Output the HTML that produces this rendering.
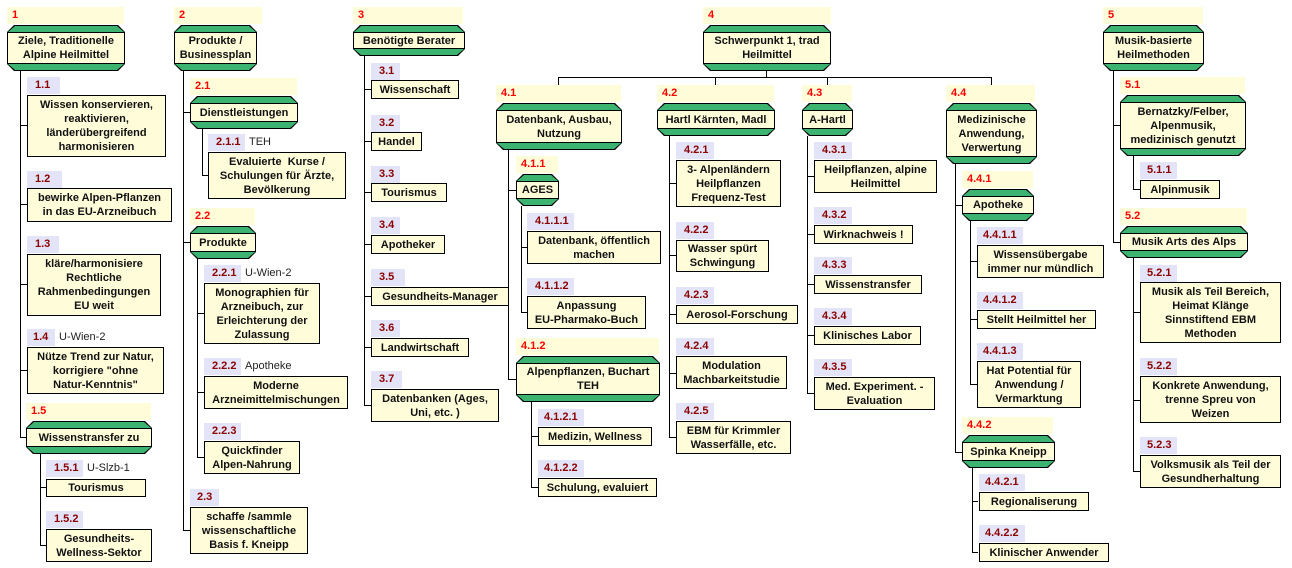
<!DOCTYPE html>
<html><head><meta charset="utf-8">
<style>
*{margin:0;padding:0;box-sizing:border-box}
body{width:1292px;height:568px;background:#fff;position:relative;overflow:hidden;font-family:"Liberation Sans",Arial,sans-serif;font-size:11px;font-weight:bold;color:#111}
div{position:absolute}
.s{background:#fffcd9;height:17px;color:#f00;padding:2px 0 0 5px;font-size:11px}
.t{background:#e4e4f8;height:17px;color:#8b0000;padding:2px 0 0 8px;width:36px}
.n{font-weight:normal;color:#222;padding-left:4px;position:absolute;left:100%;top:2px;white-space:nowrap}
.b{background:#fffcd9;border:1px solid #000;display:flex;align-items:center;justify-content:center;text-align:center;line-height:14px;padding:0 3px}
.g{display:flex;flex-direction:column}
.g>.bt,.g>.bb{position:relative;height:7px;background:#000}
.g>.bt{clip-path:polygon(7px 0,calc(100% - 7px) 0,100% 100%,0 100%)}
.g>.bb{clip-path:polygon(0 0,100% 0,calc(100% - 7px) 100%,7px 100%)}
.g>.bt::after,.g>.bb::after{content:"";position:absolute;left:1px;right:1px;background:#3cb371}
.g>.bt::after{top:1px;bottom:0;clip-path:polygon(7px 0,calc(100% - 7px) 0,100% 100%,0 100%)}
.g>.bb::after{top:0;bottom:1px;clip-path:polygon(0 0,100% 0,calc(100% - 7px) 100%,7px 100%)}
.g>.m{position:relative;flex:1;background:#fffcd9;border:1px solid #000;display:flex;align-items:center;justify-content:center;text-align:center;line-height:14px;padding:0 3px}
.v{width:1px;background:#000}
.h{height:1px;background:#000}
</style></head><body>

<!-- lines -->
<div class="v" style="left:20px;top:70px;height:367px"></div>
<div class="h" style="left:20px;top:125px;width:7px"></div>
<div class="h" style="left:20px;top:204px;width:7px"></div>
<div class="h" style="left:20px;top:284px;width:7px"></div>
<div class="h" style="left:20px;top:370px;width:7px"></div>
<div class="h" style="left:20px;top:437px;width:7px"></div>
<div class="v" style="left:40px;top:453px;height:92px"></div>
<div class="h" style="left:40px;top:487px;width:6px"></div>
<div class="h" style="left:40px;top:545px;width:6px"></div>

<div class="v" style="left:183px;top:70px;height:460px"></div>
<div class="h" style="left:183px;top:112px;width:7px"></div>
<div class="h" style="left:183px;top:242px;width:7px"></div>
<div class="h" style="left:183px;top:530px;width:7px"></div>
<div class="v" style="left:202px;top:128px;height:47px"></div>
<div class="h" style="left:202px;top:175px;width:6px"></div>
<div class="v" style="left:197px;top:258px;height:199px"></div>
<div class="h" style="left:197px;top:313px;width:7px"></div>
<div class="h" style="left:197px;top:392px;width:7px"></div>
<div class="h" style="left:197px;top:457px;width:7px"></div>

<div class="v" style="left:364px;top:56px;height:349px"></div>
<div class="h" style="left:364px;top:89px;width:7px"></div>
<div class="h" style="left:364px;top:141px;width:7px"></div>
<div class="h" style="left:364px;top:192px;width:7px"></div>
<div class="h" style="left:364px;top:244px;width:7px"></div>
<div class="h" style="left:364px;top:296px;width:7px"></div>
<div class="h" style="left:364px;top:347px;width:7px"></div>
<div class="h" style="left:364px;top:405px;width:7px"></div>

<div class="v" style="left:766px;top:70px;height:7px"></div>
<div class="h" style="left:558px;top:77px;width:434px"></div>
<div class="v" style="left:558px;top:77px;height:8px"></div>
<div class="v" style="left:715px;top:77px;height:8px"></div>
<div class="v" style="left:827px;top:77px;height:8px"></div>
<div class="v" style="left:991px;top:77px;height:8px"></div>

<div class="v" style="left:508px;top:150px;height:230px"></div>
<div class="h" style="left:508px;top:190px;width:8px"></div>
<div class="h" style="left:508px;top:379px;width:8px"></div>
<div class="v" style="left:521px;top:206px;height:107px"></div>
<div class="h" style="left:521px;top:247px;width:6px"></div>
<div class="h" style="left:521px;top:312px;width:6px"></div>
<div class="v" style="left:531px;top:402px;height:85px"></div>
<div class="h" style="left:531px;top:436px;width:7px"></div>
<div class="h" style="left:531px;top:487px;width:7px"></div>

<div class="v" style="left:669px;top:136px;height:302px"></div>
<div class="h" style="left:669px;top:183px;width:7px"></div>
<div class="h" style="left:669px;top:255px;width:7px"></div>
<div class="h" style="left:669px;top:314px;width:7px"></div>
<div class="h" style="left:669px;top:373px;width:7px"></div>
<div class="h" style="left:669px;top:437px;width:7px"></div>

<div class="v" style="left:807px;top:136px;height:257px"></div>
<div class="h" style="left:807px;top:176px;width:7px"></div>
<div class="h" style="left:807px;top:234px;width:7px"></div>
<div class="h" style="left:807px;top:284px;width:7px"></div>
<div class="h" style="left:807px;top:335px;width:7px"></div>
<div class="h" style="left:807px;top:393px;width:7px"></div>

<div class="v" style="left:955px;top:164px;height:288px"></div>
<div class="h" style="left:955px;top:205px;width:9px"></div>
<div class="h" style="left:955px;top:452px;width:9px"></div>
<div class="v" style="left:970px;top:221px;height:164px"></div>
<div class="h" style="left:970px;top:261px;width:8px"></div>
<div class="h" style="left:970px;top:319px;width:8px"></div>
<div class="h" style="left:970px;top:384px;width:8px"></div>
<div class="v" style="left:972px;top:468px;height:84px"></div>
<div class="h" style="left:972px;top:501px;width:6px"></div>
<div class="h" style="left:972px;top:552px;width:6px"></div>

<div class="v" style="left:1113px;top:70px;height:172px"></div>
<div class="h" style="left:1113px;top:125px;width:9px"></div>
<div class="h" style="left:1113px;top:242px;width:9px"></div>
<div class="v" style="left:1133px;top:156px;height:33px"></div>
<div class="h" style="left:1133px;top:189px;width:7px"></div>
<div class="v" style="left:1133px;top:258px;height:213px"></div>
<div class="h" style="left:1133px;top:312px;width:7px"></div>
<div class="h" style="left:1133px;top:400px;width:7px"></div>
<div class="h" style="left:1133px;top:471px;width:7px"></div>

<!-- Column 1 -->
<div class="s" style="left:7px;top:7px;width:117px">1</div>
<div class="g" style="left:7px;top:25px;width:118px;height:46px"><div class="bt"></div><div class="m">Ziele, Traditionelle<br>Alpine Heilmittel</div><div class="bb"></div></div>
<div class="t" style="left:27px;top:77px;width:33px">1.1</div>
<div class="b" style="left:27px;top:95px;width:139px;height:62px">Wissen konservieren,<br>reaktivieren,<br>länderübergreifend<br>harmonisieren</div>
<div class="t" style="left:27px;top:171px;width:35px">1.2</div>
<div class="b" style="left:27px;top:188px;width:145px;height:34px">bewirke Alpen-Pflanzen<br>in das EU-Arzneibuch</div>
<div class="t" style="left:27px;top:236px;width:32px">1.3</div>
<div class="b" style="left:27px;top:254px;width:134px;height:62px">kläre/harmonisiere<br>Rechtliche<br>Rahmenbedingungen<br>EU weit</div>
<div class="t" style="left:27px;top:329px;width:28px;padding-left:6px">1.4<span class="n">U-Wien-2</span></div>
<div class="b" style="left:27px;top:347px;width:137px;height:47px">Nütze Trend zur Natur,<br>korrigiere "ohne<br>Natur-Kenntnis"</div>
<div class="s" style="left:26px;top:403px;width:125px">1.5</div>
<div class="g" style="left:26px;top:421px;width:126px;height:33px"><div class="bt"></div><div class="m">Wissenstransfer zu</div><div class="bb"></div></div>
<div class="t" style="left:46px;top:460px;width:37px">1.5.1<span class="n">U-Slzb-1</span></div>
<div class="b" style="left:46px;top:479px;width:100px;height:18px">Tourismus</div>
<div class="t" style="left:46px;top:511px;width:37px">1.5.2</div>
<div class="b" style="left:46px;top:529px;width:106px;height:33px">Gesundheits-<br>Wellness-Sektor</div>

<!-- Column 2 -->
<div class="s" style="left:174px;top:7px;width:88px">2</div>
<div class="g" style="left:174px;top:25px;width:83px;height:46px"><div class="bt"></div><div class="m">Produkte /<br>Businessplan</div><div class="bb"></div></div>
<div class="s" style="left:190px;top:78px;width:107px">2.1</div>
<div class="g" style="left:190px;top:96px;width:108px;height:33px"><div class="bt"></div><div class="m">Dienstleistungen</div><div class="bb"></div></div>
<div class="t" style="left:208px;top:134px;width:37px">2.1.1<span class="n">TEH</span></div>
<div class="b" style="left:208px;top:152px;width:138px;height:47px">Evaluierte&nbsp; Kurse /<br>Schulungen für Ärzte,<br>Bevölkerung</div>
<div class="s" style="left:190px;top:208px;width:65px">2.2</div>
<div class="g" style="left:190px;top:226px;width:66px;height:33px"><div class="bt"></div><div class="m">Produkte</div><div class="bb"></div></div>
<div class="t" style="left:204px;top:265px;width:37px">2.2.1<span class="n">U-Wien-2</span></div>
<div class="b" style="left:204px;top:283px;width:116px;height:61px">Monographien für<br>Arzneibuch, zur<br>Erleichterung der<br>Zulassung</div>
<div class="t" style="left:204px;top:358px;width:37px">2.2.2<span class="n">Apotheke</span></div>
<div class="b" style="left:204px;top:376px;width:144px;height:33px">Moderne<br>Arzneimittelmischungen</div>
<div class="t" style="left:204px;top:423px;width:37px">2.2.3</div>
<div class="b" style="left:204px;top:441px;width:96px;height:33px">Quickfinder<br>Alpen-Nahrung</div>
<div class="t" style="left:190px;top:489px;width:29px;padding-left:7px">2.3</div>
<div class="b" style="left:190px;top:507px;width:118px;height:47px">schaffe /sammle<br>wissenschaftliche<br>Basis f. Kneipp</div>

<!-- Column 3 -->
<div class="s" style="left:353px;top:7px;width:110px">3</div>
<div class="g" style="left:353px;top:25px;width:112px;height:31px"><div class="bt"></div><div class="m">Benötigte Berater</div><div class="bb"></div></div>
<div class="t" style="left:371px;top:63px;width:29px">3.1</div>
<div class="b" style="left:371px;top:80px;width:88px;height:19px">Wissenschaft</div>
<div class="t" style="left:371px;top:115px;width:29px">3.2</div>
<div class="b" style="left:371px;top:132px;width:51px;height:19px">Handel</div>
<div class="t" style="left:371px;top:166px;width:29px">3.3</div>
<div class="b" style="left:371px;top:183px;width:76px;height:19px">Tourismus</div>
<div class="t" style="left:371px;top:217px;width:29px">3.4</div>
<div class="b" style="left:371px;top:235px;width:74px;height:19px">Apotheker</div>
<div class="t" style="left:371px;top:269px;width:34px">3.5</div>
<div class="b" style="left:371px;top:287px;width:138px;height:19px">Gesundheits-Manager</div>
<div class="t" style="left:371px;top:320px;width:29px">3.6</div>
<div class="b" style="left:371px;top:338px;width:98px;height:19px">Landwirtschaft</div>
<div class="t" style="left:371px;top:371px;width:31px">3.7</div>
<div class="b" style="left:371px;top:389px;width:128px;height:33px">Datenbanken (Ages,<br>Uni, etc. )</div>

<!-- Node 4 -->
<div class="s" style="left:703px;top:7px;width:128px">4</div>
<div class="g" style="left:703px;top:25px;width:128px;height:46px"><div class="bt"></div><div class="m">Schwerpunkt 1, trad<br>Heilmittel</div><div class="bb"></div></div>

<div class="s" style="left:496px;top:85px;width:125px">4.1</div>
<div class="g" style="left:496px;top:103px;width:126px;height:47px"><div class="bt"></div><div class="m">Datenbank, Ausbau,<br>Nutzung</div><div class="bb"></div></div>
<div class="s" style="left:516px;top:156px;width:42px">4.1.1</div>
<div class="g" style="left:516px;top:174px;width:43px;height:32px"><div class="bt"></div><div class="m">AGES</div><div class="bb"></div></div>
<div class="t" style="left:527px;top:213px;width:47px">4.1.1.1</div>
<div class="b" style="left:527px;top:231px;width:134px;height:33px">Datenbank, öffentlich<br>machen</div>
<div class="t" style="left:527px;top:278px;width:47px">4.1.1.2</div>
<div class="b" style="left:527px;top:296px;width:119px;height:33px">Anpassung<br>EU-Pharmako-Buch</div>
<div class="s" style="left:516px;top:338px;width:143px">4.1.2</div>
<div class="g" style="left:516px;top:356px;width:144px;height:46px"><div class="bt"></div><div class="m">Alpenpflanzen, Buchart<br>TEH</div><div class="bb"></div></div>
<div class="t" style="left:538px;top:409px;width:46px;padding-left:6px">4.1.2.1</div>
<div class="b" style="left:538px;top:427px;width:114px;height:19px">Medizin, Wellness</div>
<div class="t" style="left:538px;top:460px;width:46px;padding-left:6px">4.1.2.2</div>
<div class="b" style="left:538px;top:478px;width:119px;height:19px">Schulung, evaluiert</div>

<div class="s" style="left:657px;top:85px;width:117px">4.2</div>
<div class="g" style="left:657px;top:103px;width:118px;height:33px"><div class="bt"></div><div class="m">Hartl Kärnten, Madl</div><div class="bb"></div></div>
<div class="t" style="left:676px;top:142px;width:38px">4.2.1</div>
<div class="b" style="left:676px;top:160px;width:105px;height:47px">3- Alpenländern<br>Heilpflanzen<br>Frequenz-Test</div>
<div class="t" style="left:676px;top:222px;width:38px">4.2.2</div>
<div class="b" style="left:676px;top:240px;width:93px;height:32px">Wasser spürt<br>Schwingung</div>
<div class="t" style="left:676px;top:287px;width:38px">4.2.3</div>
<div class="b" style="left:676px;top:305px;width:122px;height:19px">Aerosol-Forschung</div>
<div class="t" style="left:676px;top:338px;width:38px">4.2.4</div>
<div class="b" style="left:676px;top:356px;width:111px;height:33px">Modulation<br>Machbarkeitstudie</div>
<div class="t" style="left:676px;top:403px;width:38px">4.2.5</div>
<div class="b" style="left:676px;top:421px;width:115px;height:33px">EBM für Krimmler<br>Wasserfälle, etc.</div>

<div class="s" style="left:802px;top:85px;width:50px">4.3</div>
<div class="g" style="left:802px;top:103px;width:51px;height:33px"><div class="bt"></div><div class="m">A-Hartl</div><div class="bb"></div></div>
<div class="t" style="left:814px;top:142px;width:38px">4.3.1</div>
<div class="b" style="left:814px;top:160px;width:123px;height:33px">Heilpflanzen, alpine<br>Heilmittel</div>
<div class="t" style="left:814px;top:207px;width:38px">4.3.2</div>
<div class="b" style="left:814px;top:225px;width:99px;height:19px">Wirknachweis !</div>
<div class="t" style="left:814px;top:257px;width:38px">4.3.3</div>
<div class="b" style="left:814px;top:275px;width:108px;height:19px">Wissenstransfer</div>
<div class="t" style="left:814px;top:308px;width:38px">4.3.4</div>
<div class="b" style="left:814px;top:326px;width:107px;height:19px">Klinisches Labor</div>
<div class="t" style="left:814px;top:359px;width:38px">4.3.5</div>
<div class="b" style="left:814px;top:377px;width:121px;height:33px">Med. Experiment. -<br>Evaluation</div>

<div class="s" style="left:946px;top:85px;width:89px">4.4</div>
<div class="g" style="left:946px;top:103px;width:91px;height:61px"><div class="bt"></div><div class="m">Medizinische<br>Anwendung,<br>Verwertung</div><div class="bb"></div></div>
<div class="s" style="left:962px;top:171px;width:71px">4.4.1</div>
<div class="g" style="left:962px;top:189px;width:72px;height:32px"><div class="bt"></div><div class="m">Apotheke</div><div class="bb"></div></div>
<div class="t" style="left:977px;top:227px;width:46px;padding-left:6px">4.4.1.1</div>
<div class="b" style="left:977px;top:245px;width:127px;height:33px">Wissensübergabe<br>immer nur mündlich</div>
<div class="t" style="left:977px;top:292px;width:46px;padding-left:6px">4.4.1.2</div>
<div class="b" style="left:977px;top:310px;width:119px;height:19px">Stellt Heilmittel her</div>
<div class="t" style="left:977px;top:343px;width:46px;padding-left:6px">4.4.1.3</div>
<div class="b" style="left:977px;top:361px;width:104px;height:47px">Hat Potential für<br>Anwendung /<br>Vermarktung</div>
<div class="s" style="left:962px;top:417px;width:91px">4.4.2</div>
<div class="g" style="left:962px;top:435px;width:93px;height:33px"><div class="bt"></div><div class="m">Spinka Kneipp</div><div class="bb"></div></div>
<div class="t" style="left:979px;top:474px;width:46px;padding-left:6px">4.4.2.1</div>
<div class="b" style="left:979px;top:492px;width:110px;height:19px">Regionaliserung</div>
<div class="t" style="left:979px;top:525px;width:46px;padding-left:6px">4.4.2.2</div>
<div class="b" style="left:979px;top:543px;width:130px;height:19px">Klinischer Anwender</div>

<!-- Node 5 -->
<div class="s" style="left:1103px;top:7px;width:100px">5</div>
<div class="g" style="left:1103px;top:25px;width:101px;height:46px"><div class="bt"></div><div class="m">Musik-basierte<br>Heilmethoden</div><div class="bb"></div></div>
<div class="s" style="left:1120px;top:77px;width:125px">5.1</div>
<div class="g" style="left:1120px;top:95px;width:126px;height:61px"><div class="bt"></div><div class="m">Bernatzky/Felber,<br>Alpenmusik,<br>medizinisch genutzt</div><div class="bb"></div></div>
<div class="t" style="left:1140px;top:162px;width:37px;padding-left:7px">5.1.1</div>
<div class="b" style="left:1140px;top:180px;width:80px;height:19px">Alpinmusik</div>
<div class="s" style="left:1120px;top:208px;width:127px">5.2</div>
<div class="g" style="left:1120px;top:226px;width:128px;height:32px"><div class="bt"></div><div class="m">Musik Arts des Alps</div><div class="bb"></div></div>
<div class="t" style="left:1140px;top:265px;width:37px;padding-left:7px">5.2.1</div>
<div class="b" style="left:1140px;top:282px;width:141px;height:61px">Musik als Teil Bereich,<br>Heimat Klänge<br>Sinnstiftend EBM<br>Methoden</div>
<div class="t" style="left:1140px;top:358px;width:37px;padding-left:7px">5.2.2</div>
<div class="b" style="left:1140px;top:376px;width:141px;height:47px">Konkrete Anwendung,<br>trenne Spreu von<br>Weizen</div>
<div class="t" style="left:1140px;top:437px;width:37px;padding-left:7px">5.2.3</div>
<div class="b" style="left:1140px;top:455px;width:141px;height:33px">Volksmusik als Teil der<br>Gesundherhaltung</div>

</body></html>
